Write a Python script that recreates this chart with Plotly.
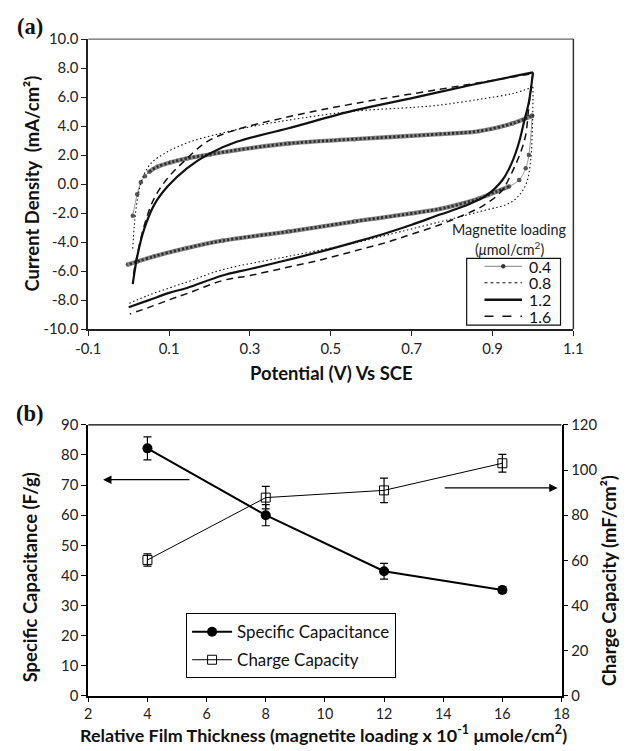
import plotly.graph_objects as go

W, H = 630, 751
# The captured page carries an 8px body margin and is shrunk back to 630x751, so a page
# position p ends up at (p + 8) * SX. Layout positions below are given as they should
# appear in the final picture and converted back here.
OFF = 8
SX = 630 / 646
SY = 751 / 767
FS = 1 / SX   # font scale so texts keep their intended on-screen size

# ---------------- Panel (a) data: cyclic voltammograms ----------------
# 0.4 umol/cm2
c04_fwd_x = [0.010, 0.021, 0.030, 0.040, 0.051, 0.071, 0.104, 0.144, 0.201, 0.267, 0.395, 0.558, 0.770, 0.868, 0.949, 0.998]
c04_fwd_y = [-2.19, -0.70, 0.12, 0.55, 0.86, 1.20, 1.50, 1.77, 2.05, 2.35, 2.80, 3.10, 3.45, 3.66, 4.18, 4.71]
c04_rev_x = [0.998, 0.990, 0.982, 0.966, 0.941, 0.909, 0.868, 0.827, 0.770, 0.558, 0.395, 0.232, 0.144, 0.063, -0.002]
c04_rev_y = [4.71, 2.00, 1.09, 0.29, -0.17, -0.52, -0.98, -1.32, -1.71, -2.58, -3.27, -3.90, -4.41, -4.98, -5.55]

# 0.8 umol/cm2
c08_fwd_x = [0.010, 0.014, 0.022, 0.034, 0.055, 0.096, 0.152, 0.226, 0.300, 0.395, 0.558, 0.709, 0.770, 0.868, 0.950, 1.000]
c08_fwd_y = [-4.45, -2.80, -0.98, 0.40, 1.43, 2.23, 2.92, 3.49, 3.95, 4.41, 5.03, 5.30, 5.45, 5.85, 6.25, 6.70]
c08_rev_x = [1.000, 1.000, 0.998, 0.994, 0.982, 0.949, 0.868, 0.770, 0.640, 0.558, 0.395, 0.232, 0.144, 0.050, -0.002]
c08_rev_y = [6.70, 5.67, 3.38, 1.55, -0.06, -1.20, -1.89, -2.60, -3.50, -4.07, -4.98, -5.90, -6.75, -7.65, -8.26]

# 1.2 umol/cm2
c12_fwd_x = [0.010, 0.022, 0.039, 0.063, 0.096, 0.144, 0.201, 0.267, 0.395, 0.558, 0.709, 0.850, 1.000]
c12_fwd_y = [-6.89, -4.87, -3.04, -1.43, -0.17, 1.09, 2.12, 2.92, 3.85, 5.08, 5.98, 6.85, 7.70]
c12_rev_x = [1.000, 0.990, 0.978, 0.966, 0.949, 0.925, 0.884, 0.827, 0.770, 0.700, 0.640, 0.560, 0.477, 0.390, 0.300, 0.232, 0.144, 0.100, 0.050, 0.000]
c12_rev_y = [7.70, 5.67, 4.30, 2.92, 1.55, 0.30, -0.80, -1.55, -2.10, -2.80, -3.35, -4.00, -4.64, -5.25, -5.85, -6.30, -7.16, -7.50, -8.00, -8.49]

# 1.6 umol/cm2
c16_fwd_x = [0.012, 0.020, 0.039, 0.063, 0.096, 0.136, 0.193, 0.258, 0.395, 0.558, 0.770, 0.900, 1.000]
c16_fwd_y = [-6.20, -5.00, -2.80, -0.98, 0.40, 1.55, 2.92, 3.68, 4.64, 5.55, 6.54, 7.15, 7.62]
c16_rev_x = [1.000, 0.990, 0.982, 0.970, 0.949, 0.921, 0.876, 0.827, 0.770, 0.700, 0.640, 0.560, 0.477, 0.390, 0.300, 0.232, 0.144, 0.103, 0.050, 0.003]
c16_rev_y = [7.62, 5.40, 3.38, 2.23, 0.86, -0.52, -1.50, -2.15, -2.80, -3.45, -4.00, -4.60, -5.21, -5.75, -6.30, -6.65, -7.55, -7.95, -8.50, -8.95]

legend_a_labels = ["0.4", "0.8", "1.2", "1.6"]

xa_ticks = [-0.1, 0.1, 0.3, 0.5, 0.7, 0.9, 1.1]
xa_ticktext = ["-0.1", "0.1", "0.3", "0.5", "0.7", "0.9", "1.1"]
ya_ticks = [-10, -8, -6, -4, -2, 0, 2, 4, 6, 8, 10]
ya_ticktext = ["-10.0", "-8.0", "-6.0", "-4.0", "-2.0", "0.0", "2.0", "4.0", "6.0", "8.0", "10.0"]

# ---------------- Panel (b) data ----------------
thickness = [4, 8, 12, 16]
spec_cap = [82.2, 60.0, 41.4, 35.2]
spec_cap_err = [3.8, 3.5, 2.6, 1.0]
charge_cap = [60.2, 87.8, 91.0, 103.0]
charge_cap_err = [2.7, 5.0, 5.4, 3.9]

# ---------------- helpers (on-screen pixels -> paper fraction) ----------------
def PX(x):
    return (x / SX - OFF) / W

def PY(y):
    return 1 - (y / SY - OFF) / H

def F(size):
    return size * FS

TICKFONT = dict(family="Lato", size=F(14.5), color="#222")
TITLEFONT = dict(family="Lato", size=F(18), color="#111")

fig = go.Figure()

def spline_trace(x, y, **kw):
    return go.Scatter(x=x, y=y, mode="lines", line_shape="spline", showlegend=False,
                      hoverinfo="skip", xaxis="x", yaxis="y", **kw)

# 0.4 curve: thin gray line with markers, beads overlay on the dense part
for xs, ys, start in [(c04_fwd_x, c04_fwd_y, 4), (c04_rev_x, c04_rev_y, 4)]:
    fig.add_trace(go.Scatter(x=xs, y=ys, mode="lines+markers", line_shape="spline",
                             line=dict(color="#999999", width=1),
                             marker=dict(size=4.5, color="#555"),
                             showlegend=False, hoverinfo="skip", xaxis="x", yaxis="y"))
    fig.add_trace(spline_trace(xs[start:], ys[start:], line=dict(color="#888888", width=4.3)))
    fig.add_trace(spline_trace(xs[start:], ys[start:], line=dict(color="#2e2e2e", width=2.8, dash="2.2px,2px")))

# 0.8 dotted
for xs, ys in [(c08_fwd_x, c08_fwd_y), (c08_rev_x, c08_rev_y)]:
    fig.add_trace(spline_trace(xs, ys, line=dict(color="#111", width=1.1, dash="1.5px,2.5px")))
# 1.2 solid
for xs, ys in [(c12_fwd_x, c12_fwd_y), (c12_rev_x, c12_rev_y)]:
    fig.add_trace(spline_trace(xs, ys, line=dict(color="#111", width=2.2)))
# 1.6 dashed
for xs, ys in [(c16_fwd_x, c16_fwd_y), (c16_rev_x, c16_rev_y)]:
    fig.add_trace(spline_trace(xs, ys, line=dict(color="#111", width=1.5, dash="7px,5px")))

# ---------------- Panel (b) traces ----------------
fig.add_trace(go.Scatter(x=thickness, y=spec_cap, mode="lines+markers", name="Specific Capacitance",
                         line=dict(color="black", width=2),
                         marker=dict(symbol="circle", size=10, color="black"),
                         error_y=dict(type="data", array=spec_cap_err, color="black", thickness=1.2, width=4),
                         xaxis="x2", yaxis="y2", legendgroup="g1"))
fig.add_trace(go.Scatter(x=thickness, y=charge_cap, mode="lines+markers", name="Charge Capacity",
                         line=dict(color="black", width=1),
                         marker=dict(symbol="square-open", size=9, color="black", line=dict(width=1)),
                         error_y=dict(type="data", array=charge_cap_err, color="black", thickness=1.2, width=4),
                         xaxis="x2", yaxis="y3", legendgroup="g2"))

# ---------------- Layout ----------------
dom_ax = [PX(84), PX(575)]
dom_ay = [PY(328), PY(37)]
dom_bx = [PX(84), PX(563)]
dom_by = [PY(696), PY(424)]

fig.update_layout(
    width=W, height=H, margin=dict(l=0, r=0, t=0, b=0),
    paper_bgcolor="white", plot_bgcolor="white",
    xaxis=dict(domain=dom_ax, range=[-0.1, 1.1], tickvals=xa_ticks, ticktext=xa_ticktext,
               showgrid=False, zeroline=False, showline=True, linecolor="#222", linewidth=2,
               ticks="outside", ticklen=5, tickcolor="#222", tickfont=TICKFONT, anchor="y"),
    yaxis=dict(domain=dom_ay, range=[-10, 10], tickvals=ya_ticks, ticktext=ya_ticktext,
               showgrid=False, zeroline=False, showline=True, linecolor="#222", linewidth=2,
               ticks="outside", ticklen=5, tickcolor="#222", tickfont=TICKFONT, anchor="x"),
    xaxis2=dict(domain=dom_bx, range=[2, 18], dtick=2, tick0=2,
                showgrid=False, zeroline=False, showline=True, linecolor="black", linewidth=2,
                ticks="outside", ticklen=4, tickcolor="black",
                tickfont=dict(family="Lato", size=F(14), color="#222"), anchor="y2"),
    yaxis2=dict(domain=dom_by, range=[0, 90], dtick=10,
                showgrid=False, zeroline=False, showline=True, linecolor="black", linewidth=2,
                ticks="outside", ticklen=5, tickcolor="black", tickfont=TICKFONT, anchor="x2"),
    yaxis3=dict(domain=dom_by, range=[0, 120], dtick=20, overlaying="y2", side="right",
                showgrid=False, zeroline=False, showline=True, linecolor="black", linewidth=1.5,
                ticks="outside", ticklen=5, tickcolor="black", tickfont=TICKFONT, anchor="x2"),
    legend=dict(x=PX(183), y=PY(613), xanchor="left", yanchor="top",
                bordercolor="black", borderwidth=1, bgcolor="white",
                font=dict(family="Lato", size=F(16.5), color="#111"),
                tracegroupgap=3, itemwidth=40),
    showlegend=True,
)

shapes = []
# panel (a) top and right frame
shapes.append(dict(type="line", xref="paper", yref="paper", x0=dom_ax[0], x1=dom_ax[1], y0=dom_ay[1], y1=dom_ay[1],
                   line=dict(color="#666", width=1.2)))
shapes.append(dict(type="line", xref="paper", yref="paper", x0=dom_ax[1], x1=dom_ax[1], y0=dom_ay[0], y1=dom_ay[1],
                   line=dict(color="#333", width=1.5)))
# panel (b) top frame
shapes.append(dict(type="line", xref="paper", yref="paper", x0=dom_bx[0], x1=dom_bx[1], y0=dom_by[1], y1=dom_by[1],
                   line=dict(color="black", width=1.2)))

# manual legend for panel (a)
shapes.append(dict(type="rect", xref="paper", yref="paper", x0=PX(467), x1=PX(562), y0=PY(324), y1=PY(257),
                   line=dict(color="#111", width=1.2), fillcolor="white", layer="above"))
ly = [265, 281.5, 298.5, 315]
styles = [dict(color="#9a9a9a", width=1.2), dict(color="#111", width=1.1, dash="dot"),
          dict(color="#111", width=2.5), dict(color="#111", width=1.5, dash="dash")]
for yy, st in zip(ly, styles):
    shapes.append(dict(type="line", xref="paper", yref="paper", x0=PX(485), x1=PX(523), y0=PY(yy), y1=PY(yy),
                       line=st, layer="above"))
shapes.append(dict(type="circle", xref="paper", yref="paper", x0=PX(502), x1=PX(506), y0=PY(ly[0] + 2), y1=PY(ly[0] - 2),
                   line=dict(color="#333", width=0.5), fillcolor="#333", layer="above"))

annotations = []

def note(x, y, text, font, angle=0):
    annotations.append(dict(x=PX(x), y=PY(y), xref="paper", yref="paper", text=text, showarrow=False,
                            xanchor="center", yanchor="middle", textangle=angle, font=font))

for yy, lab in zip(ly, legend_a_labels):
    annotations.append(dict(x=PX(528), y=PY(yy), xref="paper", yref="paper", text=lab, showarrow=False,
                            xanchor="left", yanchor="middle", font=dict(family="Lato", size=F(15.5), color="#111")))
note(510, 228, "Magnetite loading", dict(family="Lato", size=F(14), color="#222"))
note(510, 247, "(<i>μ</i>mol/cm<sup>2</sup>)", dict(family="Lato", size=F(14), color="#222"))

# axis titles
note(27, 182, "<b>Current Density  (mA/cm²)</b>", TITLEFONT, -90)
note(330, 372, "<b>Potential (V) Vs SCE</b>", TITLEFONT)
note(25, 577, "<b>Specific Capacitance (F/g)</b>", TITLEFONT, -90)
note(611, 580, "<b>Charge Capacity (mF/cm²)</b>", TITLEFONT, -90)
note(322, 734, "<b>Relative Film Thickness (magnetite loading x 10<sup>-1</sup> μmole/cm<sup>2</sup>)</b>",
     dict(family="Lato", size=F(17.5), color="#111"))
# panel labels
note(25, 24, "<b>(a)</b>", dict(family="Liberation Serif", size=F(22), color="#111"))
note(25, 413, "<b>(b)</b>", dict(family="Liberation Serif", size=F(22), color="#111"))

# arrows pointing to the relevant axes
annotations.append(dict(x=2.5, y=71.8, ax=5.47, ay=71.8, xref="x2", yref="y2", axref="x2", ayref="y2",
                        text="", showarrow=True, arrowhead=2, arrowsize=1.3, arrowwidth=1.3, arrowcolor="black"))
annotations.append(dict(x=17.87, y=92.1, ax=14.0, ay=92.1, xref="x2", yref="y3", axref="x2", ayref="y3",
                        text="", showarrow=True, arrowhead=2, arrowsize=1.3, arrowwidth=1.3, arrowcolor="black"))

fig.update_layout(shapes=shapes, annotations=annotations)
fig.write_html("out.html")
